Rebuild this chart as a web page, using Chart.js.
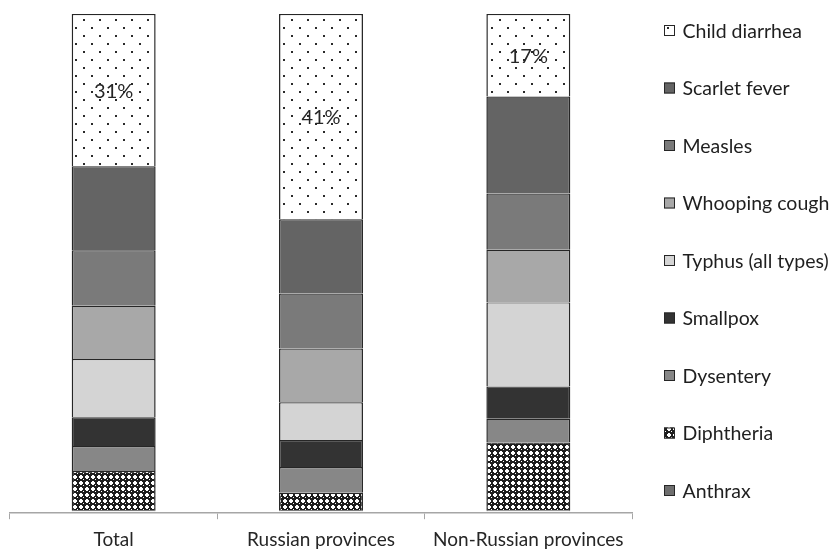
<!DOCTYPE html>
<html><head><meta charset="utf-8">
<script src="https://cdn.jsdelivr.net/npm/chart.js@4"></script>
<style>html,body{margin:0;padding:0;background:#fff}#wrap{width:832px;height:550px;position:relative}</style>
</head><body><div id="wrap"><canvas id="c" width="832" height="550"></canvas></div>
<script>
const categories = ['Total', 'Russian provinces', 'Non-Russian provinces'];
const seriesNames = ['Anthrax', 'Diphtheria', 'Dysentery', 'Smallpox', 'Typhus (all types)', 'Whooping cough', 'Measles', 'Scarlet fever', 'Child diarrhea'];
const anthrax       = [0.1, 0.1, 0.2];
const diphtheria    = [8.0, 3.6, 13.6];
const dysentery     = [5.0, 5.2, 4.8];
const smallpox      = [5.8, 5.4, 6.5];
const typhus        = [11.7, 7.6, 16.9];
const whoopingCough = [10.7, 10.8, 10.6];
const measles       = [11.2, 11.1, 11.3];
const scarletFever  = [16.9, 14.9, 19.5];
const childDiarrhea = [30.6, 41.3, 16.6];

function makePattern(size, draw) {
  const c = document.createElement('canvas');
  c.width = size; c.height = size;
  const g = c.getContext('2d');
  draw(g);
  return document.getElementById('c').getContext('2d').createPattern(c, 'repeat');
}
const dotPattern = makePattern(16, g => {
  g.fillStyle = '#ffffff'; g.fillRect(0, 0, 16, 16);
  g.fillStyle = '#2a2a2a';
  g.fillRect(3, 3, 2, 2);
  g.fillRect(11, 11, 2, 2);
});
const checkPattern = makePattern(6, g => {
  g.fillStyle = '#1e1e1e'; g.fillRect(0, 0, 6, 6);
  g.fillStyle = '#ffffff';
  g.fillRect(1, 2, 4, 2);
  g.fillRect(2, 1, 2, 4);
  g.fillRect(5, 5, 1, 1);
});

const seriesValues = [anthrax, diphtheria, dysentery, smallpox, typhus, whoopingCough, measles, scarletFever, childDiarrhea];
const seriesFills = ['#6e6e6e', checkPattern, '#878787', '#333333', '#d4d4d4', '#a8a8a8', '#7a7a7a', '#646464', dotPattern];

const datasets = seriesNames.map((name, i) => ({
  label: name,
  data: seriesValues[i],
  backgroundColor: seriesFills[i],
  borderColor: '#262626',
  borderWidth: {top: 1.2, left: 1.5, right: 1.5, bottom: 0},
  borderSkipped: false,
  barPercentage: 0.405,
  categoryPercentage: 1.0
}));

const sideLegend = {
  id: 'sideLegend',
  afterDraw(chart, args, opts) {
    const ctx = chart.ctx;
    const ds = chart.data.datasets;
    ctx.save();
    ctx.font = opts.font;
    ctx.textBaseline = 'middle';
    ctx.textAlign = 'left';
    const n = ds.length;
    for (let k = 0; k < n; k++) {
      const d = ds[n - 1 - k];
      const cy = opts.top + k * opts.spacing;
      ctx.fillStyle = d.backgroundColor;
      ctx.fillRect(opts.x, cy - 5.5, 11, 11);
      ctx.strokeStyle = '#262626'; ctx.lineWidth = 1;
      ctx.strokeRect(opts.x + 0.5, cy - 5, 10, 10);
      ctx.fillStyle = '#1f1f1f';
      ctx.fillText(d.label, opts.x + 18.5, cy + 1);
    }
    ctx.restore();
  }
};

const pctLabels = {
  id: 'pctLabels',
  afterDatasetsDraw(chart, args, opts) {
    const ctx = chart.ctx;
    const idx = chart.data.datasets.length - 1;
    const meta = chart.getDatasetMeta(idx);
    const vals = chart.data.datasets[idx].data;
    ctx.save();
    ctx.font = opts.font;
    ctx.fillStyle = '#262626';
    ctx.textAlign = 'center';
    ctx.textBaseline = 'middle';
    meta.data.forEach((el, i) => {
      ctx.fillText(Math.round(vals[i]) + '%', el.x, (el.y + el.base) / 2 + 1);
    });
    ctx.restore();
  }
};

function draw() {
  new Chart(document.getElementById('c'), {
    type: 'bar',
    data: { labels: categories, datasets },
    plugins: [sideLegend, pctLabels],
    options: {
      responsive: false,
      animation: false,
      layout: { padding: { top: 14, left: 10, right: 200, bottom: -10 } },
      plugins: {
        legend: { display: false },
        tooltip: { enabled: false },
        sideLegend: { x: 664, top: 30.5, spacing: 57.5, font: '19.5px Lato' },
        pctLabels: { font: '20px Lato' }
      },
      scales: {
        x: {
          stacked: true,
          offset: true,
          grid: { display: true, drawOnChartArea: false, drawTicks: true, tickLength: 6, color: '#a6a6a6', offset: true, lineWidth: 1 },
          border: { display: true, color: '#a6a6a6', width: 1.5 },
          ticks: { color: '#262626', font: { family: 'Lato', size: 19 }, padding: 9, maxRotation: 0 }
        },
        y: { stacked: true, display: false, min: -0.4, max: 100 }
      }
    }
  });
}
if (document.fonts && document.fonts.load) {
  document.fonts.load('19px Lato').then(draw, draw);
} else { draw(); }
</script>
</body></html>
